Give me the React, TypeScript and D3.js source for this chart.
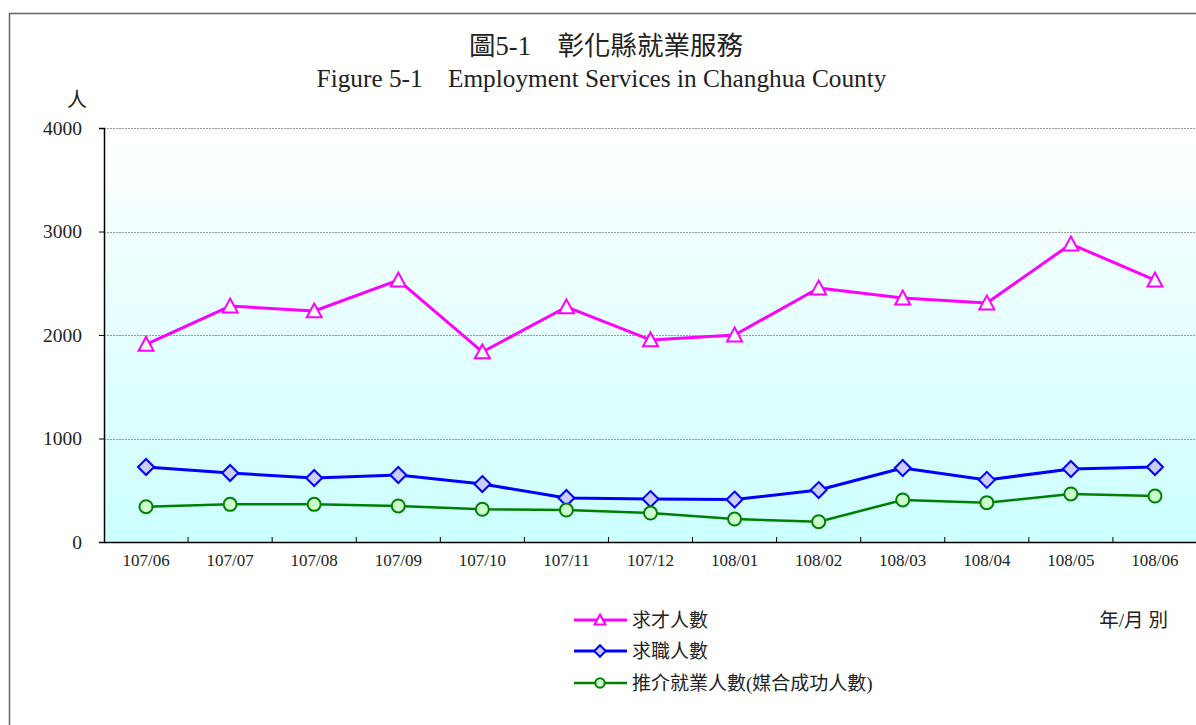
import React, { useEffect, useRef } from "react";
import * as d3 from "d3";

const categories = ["107/06", "107/07", "107/08", "107/09", "107/10", "107/11", "107/12", "108/01", "108/02", "108/03", "108/04", "108/05", "108/06"];
const jobVacancies = [1910, 2280, 2232, 2531, 1836, 2271, 1952, 2000, 2454, 2357, 2309, 2879, 2531];
const jobSeekers = [725, 667, 618, 647, 560, 425, 415, 410, 502, 715, 600, 705, 725];
const placements = [341, 364, 364, 348, 316, 309, 280, 222, 196, 406, 380, 464, 444];
const yTicks = [0, 1000, 2000, 3000, 4000];
const seriesNames = ["求才人數", "求職人數", "推介就業人數(媒合成功人數)"];

const W = 1196, H = 725;
const M = { left: 104, top: 128, right: 1197, bottom: 542 };
const SERIF = "'Liberation Serif', 'Times New Roman', 'Noto Sans CJK TC', serif";
const CJK = "'Liberation Serif', 'Noto Sans CJK TC', serif";

export default function App() {
  const ref = useRef<SVGSVGElement | null>(null);
  useEffect(() => {
    const svg = d3.select(ref.current);
    svg.selectAll("*").remove();

    const x = d3.scaleBand<string>().domain(categories).range([M.left, M.right]).padding(0);
    const y = d3.scaleLinear().domain([0, 4000]).range([M.bottom, M.top]);
    const cx = (c: string) => (x(c) as number) + x.bandwidth() / 2;

    svg.append("rect").attr("width", W).attr("height", H).attr("fill", "#fff");

    const defs = svg.append("defs");
    const grad = defs.append("linearGradient").attr("id", "bg").attr("x1", 0).attr("y1", 0).attr("x2", 0).attr("y2", 1);
    grad.append("stop").attr("offset", "0%").attr("stop-color", "#ffffff");
    grad.append("stop").attr("offset", "100%").attr("stop-color", "#ccffff");

    // outer frame
    svg.append("path").attr("d", `M9.5,${H}V13.5H${W}`).attr("fill", "none").attr("stroke", "#666").attr("stroke-width", 1.5);

    // plot background
    svg.append("rect").attr("x", M.left).attr("y", M.top).attr("width", M.right - M.left).attr("height", M.bottom - M.top).attr("fill", "url(#bg)");

    // grid
    svg.append("g").selectAll("line").data(yTicks.filter(t => t > 0)).join("line")
      .attr("x1", M.left).attr("x2", M.right)
      .attr("y1", d => Math.round(y(d)) + 0.5).attr("y2", d => Math.round(y(d)) + 0.5)
      .attr("stroke", "#999").attr("stroke-width", 1).attr("stroke-dasharray", "2,1");

    // y axis
    const yAxis = svg.append("g").attr("transform", `translate(${M.left},0)`)
      .call(d3.axisLeft(y).tickValues(yTicks).tickSize(5).tickPadding(17).tickFormat(d3.format("d")));
    yAxis.select(".domain").attr("stroke", "#000").attr("stroke-width", 1.5);
    yAxis.selectAll(".tick line").attr("stroke", "#000");
    yAxis.selectAll("text").attr("font-family", SERIF).attr("font-size", 19.5).attr("fill", "#222");

    // x axis
    const xAxis = svg.append("g").attr("transform", `translate(0,${M.bottom})`)
      .call(d3.axisBottom(x).tickSize(0).tickPadding(12));
    xAxis.select(".domain").attr("stroke", "#000").attr("stroke-width", 1.5);
    xAxis.selectAll("text").attr("font-family", SERIF).attr("font-size", 17).attr("fill", "#222");
    svg.append("g").selectAll("line").data(categories.slice(1)).join("line")
      .attr("x1", d => x(d) as number).attr("x2", d => x(d) as number)
      .attr("y1", M.bottom).attr("y2", M.bottom - 5).attr("stroke", "#000");

    const line = (vals: number[]) => d3.line<number>().x((_, i) => cx(categories[i])).y(v => y(v))(vals);

    const series = [
      { vals: jobVacancies, color: "#ff00ff", fill: "#f4ffff", w: 3, marker: "tri" },
      { vals: jobSeekers, color: "#0000ff", fill: "#ccccff", w: 3, marker: "dia" },
      { vals: placements, color: "#008000", fill: "#ccffcc", w: 2.5, marker: "cir" },
    ];

    const drawMarker = (g: any, kind: string, px: number, py: number, color: string, fill: string, scale = 1) => {
      if (kind === "tri") {
        const s = 7.5 * scale;
        g.append("path").attr("d", `M${px},${py - s}L${px + s},${py + s * 0.85}L${px - s},${py + s * 0.85}Z`)
          .attr("fill", fill).attr("stroke", color).attr("stroke-width", 2);
      } else if (kind === "dia") {
        const s = 8 * scale;
        g.append("path").attr("d", `M${px},${py - s}L${px + s},${py}L${px},${py + s}L${px - s},${py}Z`)
          .attr("fill", fill).attr("stroke", color).attr("stroke-width", 2);
      } else {
        g.append("circle").attr("cx", px).attr("cy", py).attr("r", 6.5 * scale)
          .attr("fill", fill).attr("stroke", color).attr("stroke-width", 2);
      }
    };

    series.forEach(s => {
      const g = svg.append("g");
      g.append("path").attr("d", line(s.vals)).attr("fill", "none").attr("stroke", s.color).attr("stroke-width", s.w).attr("stroke-linejoin", "round");
      s.vals.forEach((v, i) => drawMarker(g, s.marker, cx(categories[i]), y(v), s.color, s.fill));
    });

    // titles
    svg.append("text").attr("x", 606).attr("y", 55).attr("text-anchor", "middle")
      .attr("font-family", CJK).attr("font-size", 26.5).attr("fill", "#222").text("圖5-1　彰化縣就業服務");
    svg.append("text").attr("x", 601.5).attr("y", 87).attr("text-anchor", "middle")
      .attr("font-family", SERIF).attr("font-size", 25.3).attr("fill", "#222")
      .attr("xml:space", "preserve").text("Figure 5-1    Employment Services in Changhua County");
    svg.append("text").attr("x", 77).attr("y", 107).attr("text-anchor", "middle")
      .attr("font-family", CJK).attr("font-size", 20).attr("fill", "#222").text("人");

    // legend
    const legY = [620, 651, 683];
    series.forEach((s, i) => {
      const g = svg.append("g");
      g.append("line").attr("x1", 574).attr("x2", 627).attr("y1", legY[i]).attr("y2", legY[i]).attr("stroke", s.color).attr("stroke-width", s.w);
      drawMarker(g, s.marker, 600, legY[i], s.color, i === 0 ? "#ffffff" : s.fill, 0.72);
      g.append("text").attr("x", 632).attr("y", legY[i] + 7).attr("font-family", CJK).attr("font-size", 19).attr("fill", "#222").text(seriesNames[i]);
    });

    svg.append("text").attr("x", 1168).attr("y", 627).attr("text-anchor", "end")
      .attr("font-family", CJK).attr("font-size", 19.5).attr("fill", "#222").attr("xml:space", "preserve").text("年/月 別");
  }, []);

  return (
    <div style={{ position: "fixed", left: 0, top: 0 }}>
      <svg ref={ref} width={W} height={H} style={{ display: "block" }} />
    </div>
  );
}
